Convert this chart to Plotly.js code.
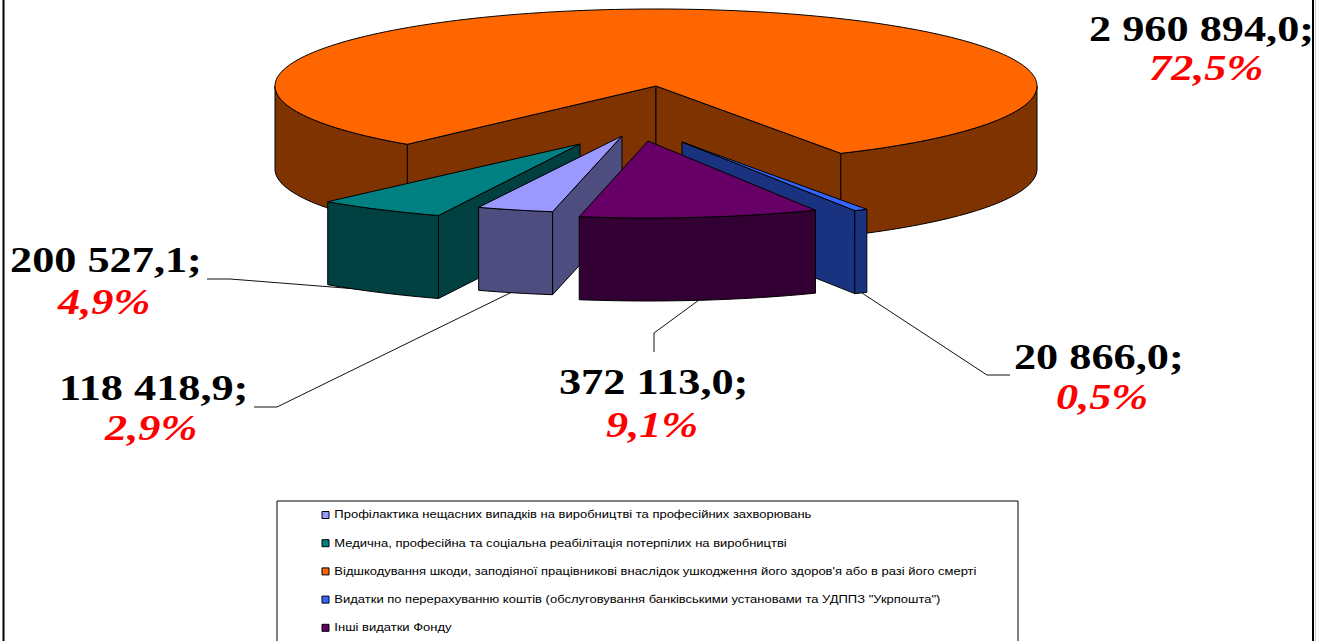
<!DOCTYPE html>
<html>
<head>
<meta charset="utf-8">
<script src="https://cdn.plot.ly/plotly-3.0.1.min.js"></script>
<style>
html,body{margin:0;padding:0;background:#fff;overflow:hidden}
#chart{width:1327px;height:641px}
.annotation-text{transform-box:fill-box;transform-origin:center;transform:scaleX(1.23)}
.textpoint text{transform-box:fill-box;transform-origin:left center;transform:translate(3.5px,1px) scaleX(1.3)}
</style>
</head>
<body>
<div id="chart"></div>
<script>
// ---- data ----
const categories = [
  "Профілактика нещасних випадків на виробництві та професійних захворювань",
  "Медична, професійна та соціальна реабілітація потерпілих на виробництві",
  "Відшкодування шкоди, заподіяної працівникові внаслідок ушкодження його здоров'я або в разі його смерті",
  "Видатки по перерахуванню коштів (обслуговування банківськими установами та УДППЗ \"Укрпошта\")",
  "Інші видатки Фонду"
];
const values = [118418.9, 200527.1, 2960894.0, 20866.0, 372113.0];
const valueLabels = ["118 418,9;", "200 527,1;", "2 960 894,0;", "20 866,0;", "372 113,0;"];
const percentLabels = ["2,9%", "4,9%", "72,5%", "0,5%", "9,1%"];

// ---- styles and layout ----
const topColors  = ["#9999FF", "#008080", "#FF6600", "#3366FF", "#660066"];
const sideColors = ["#4D4D80", "#004040", "#7F3300", "#1A3380", "#330033"];
const explodeX = [-34, -76, 0, 26, -8];
const explodeY = [50, 58, 0, 56, 55];
const angleNudge = [1, 0.7, 0, 0, 0.9];
const drawOrder = [2, 1, 0, 3, 4];
const cx = 656, cy = 86, rx = 381, ry = 77, depth = 83, startDeg = 99.5;
const valueSpots = [[153, 388], [105.5, 260], [1201.5, 29], [1099, 357], [653, 382]];
const percentSpots = [[150, 428], [103, 302], [1206, 68], [1101.5, 397], [652, 425]];
const leaders = [
  [[254, 407], [277, 407], [512, 292]],
  [[207, 279], [230, 279], [395, 292]],
  [[987, 375], [1010, 375]],
  [[862, 293], [987, 375]],
  [[654, 352], [654, 333], [699, 300]]
];
const legendX = 325.5, legendY0 = 515, legendStep = 28.2;

// ---- build the exploded elliptical pie from the values ----
const total = values.reduce((a, b) => a + b, 0);
const rad = d => d * Math.PI / 180;
function pt(i, deg, drop) {
  return [cx + explodeX[i] + rx * Math.cos(rad(deg)), cy + explodeY[i] + ry * Math.sin(rad(deg)) + drop];
}
function arc(i, a, b, drop) {
  const out = [], n = Math.max(2, Math.ceil(Math.abs(b - a) / 1.5));
  for (let k = 0; k <= n; k++) out.push(pt(i, a + (b - a) * k / n, drop));
  return out;
}
function poly(points, fill) {
  const closed = points.concat([points[0]]);
  return {
    type: "scatter", mode: "lines", x: closed.map(p => p[0]), y: closed.map(p => p[1]),
    fill: "toself", fillcolor: fill, line: {color: "#000", width: 1, simplify: false},
    hoverinfo: "skip", showlegend: false
  };
}
const traces = [];
leaders.forEach(l => traces.push({
  type: "scatter", mode: "lines", x: l.map(p => p[0]), y: l.map(p => p[1]),
  line: {color: "#111", width: 1}, hoverinfo: "skip", showlegend: false
}));
const spans = [];
let cur = startDeg;
values.forEach((v, i) => {
  const end = cur + v / total * 360;
  spans[i] = [cur + angleNudge[i], end + angleNudge[i]];
  cur = end;
});
drawOrder.forEach(i => {
  const [a, b] = spans[i];
  const apex = [cx + explodeX[i], cy + explodeY[i]];
  const apexLow = [apex[0], apex[1] + depth];
  const faces = [];
  // cut faces turned towards the viewer
  const bN = ((b % 360) + 360) % 360, aN = ((a % 360) + 360) % 360;
  if (Math.cos(rad(aN)) < 0 && aN > 90 && aN < 270) faces.push([apex, pt(i, a, 0), pt(i, a, depth), apexLow]);
  if (Math.cos(rad(bN)) > 0 && bN < 90) faces.push([apex, pt(i, b, 0), pt(i, b, depth), apexLow]);
  // outer wall: only the front half (0..180 degrees) shows
  [[0, 180], [360, 540]].forEach(([lo, hi]) => {
    const s = Math.max(a, lo), e = Math.min(b, hi);
    if (e > s) faces.push(arc(i, s, e, 0).concat(arc(i, e, s, depth)));
  });
  faces.forEach(f => traces.push(poly(f, sideColors[i])));
  traces.push(poly([apex].concat(arc(i, a, b, 0)), topColors[i]));
});
// legend swatches and their labels
categories.forEach((c, i) => traces.push({
  type: "scatter", mode: "markers+text", name: c,
  x: [legendX], y: [legendY0 + legendStep * i], text: [c], textposition: "middle right",
  textfont: {family: "Liberation Sans, Arial, sans-serif", size: 10, color: "#000"},
  marker: {symbol: "square", size: 7, color: topColors[i], line: {color: "#000", width: 1}},
  hoverinfo: "skip", showlegend: false, cliponaxis: false
}));

const serif = "Liberation Serif, Times New Roman, serif";
const annotations = [];
values.forEach((v, i) => {
  annotations.push({
    xref: "x", yref: "y", x: valueSpots[i][0], y: valueSpots[i][1], text: valueLabels[i], showarrow: false,
    xanchor: "center", yanchor: "middle", font: {family: serif, size: 36, color: "#000", weight: 700}
  });
  annotations.push({
    xref: "x", yref: "y", x: percentSpots[i][0], y: percentSpots[i][1], text: "<i>" + percentLabels[i] + "</i>", showarrow: false,
    xanchor: "center", yanchor: "middle", font: {family: serif, size: 36, color: "#FF0000", weight: 700}
  });
});

const layout = {
  width: 1327, height: 641, margin: {l: 0, r: 0, t: 0, b: 0},
  paper_bgcolor: "#fff", plot_bgcolor: "#fff", showlegend: false,
  xaxis: {range: [0, 1327], visible: false, fixedrange: true},
  yaxis: {range: [641, 0], visible: false, fixedrange: true},
  annotations,
  shapes: [
    {type: "rect", xref: "x", yref: "y", x0: 277, x1: 1018, y0: 501, y1: 700, line: {color: "#000", width: 1}, fillcolor: "rgba(0,0,0,0)", layer: "below"},
    {type: "line", xref: "x", yref: "y", x0: 3.5, x1: 3.5, y0: 0, y1: 641, line: {color: "#000", width: 2}},
    {type: "line", xref: "x", yref: "y", x0: 1313, x1: 1313, y0: 0, y1: 641, line: {color: "#000", width: 2}},
    {type: "line", xref: "x", yref: "y", x0: 1315.5, x1: 1315.5, y0: 0, y1: 641, line: {color: "#ccc", width: 1}}
  ]
};
Plotly.newPlot("chart", traces, layout, {displayModeBar: false, staticPlot: true});
</script>
</body>
</html>
